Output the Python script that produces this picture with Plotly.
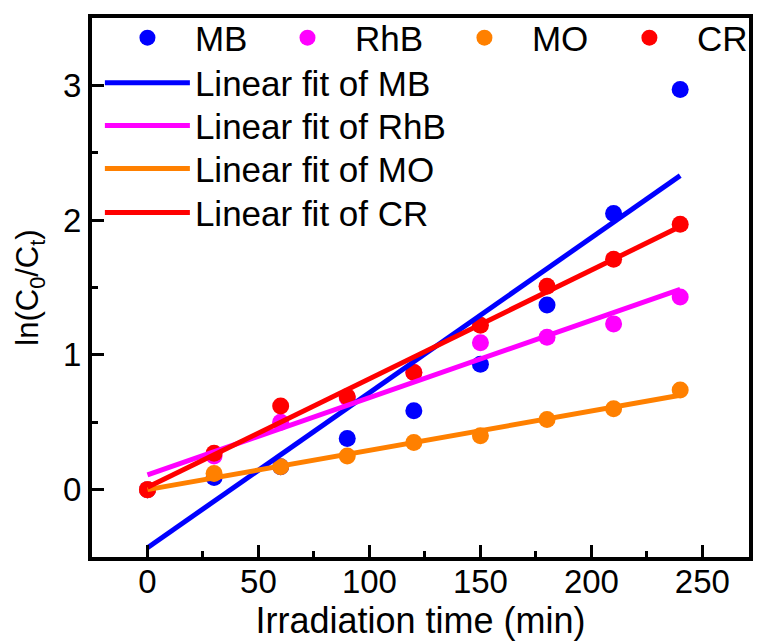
import numpy as np
import plotly.graph_objects as go

time_min = [0, 30, 60, 90, 120, 150, 180, 210, 240]
mb = [0.0, 0.09, 0.17, 0.38, 0.585, 0.93, 1.37, 2.05, 2.97]
rhb = [0.0, 0.25, 0.50, 0.68, 0.87, 1.09, 1.13, 1.23, 1.43]
mo = [0.0, 0.12, 0.17, 0.25, 0.35, 0.40, 0.52, 0.60, 0.74]
cr = [0.0, 0.27, 0.62, 0.69, 0.87, 1.22, 1.51, 1.71, 1.97]

names = ["MB", "RhB", "MO", "CR"]
series = [mb, rhb, mo, cr]
colors = ["#0000ff", "#ff00ff", "#ff8000", "#ff0000"]

FONT = "Liberation Sans, Arial, sans-serif"

fig = go.Figure()

marker_legend = ["legend", "legend3", "legend7", "legend8"]
fit_legend = ["legend2", "legend4", "legend5", "legend6"]

x = np.array(time_min, dtype=float)
for name, y, c, lg in zip(names, series, colors, marker_legend):
    fig.add_trace(go.Scatter(
        x=time_min, y=y, mode="markers", name=name, legend=lg,
        marker=dict(size=17, color=c, line=dict(width=0)),
    ))

for name, y, c, lg in zip(names, series, colors, fit_legend):
    k, b = np.polyfit(x, np.array(y), 1)
    xf = [time_min[0], time_min[-1]]
    yf = [b + k * xf[0], b + k * xf[1]]
    fig.add_trace(go.Scatter(
        x=xf, y=yf, mode="lines", name="Linear fit of " + name,
        legend=lg, line=dict(color=c, width=5),
    ))

axis_common = dict(
    showline=True, linecolor="black", linewidth=4, mirror=True,
    ticks="inside", ticklen=12, tickwidth=3, tickcolor="black",
    showgrid=False, zeroline=False,
    tickfont=dict(family=FONT, size=33, color="black"),
)

fig.update_xaxes(
    range=[-25, 271], tickvals=[0, 50, 100, 150, 200, 250],
    minor=dict(ticks="inside", ticklen=6, tickwidth=3, tickcolor="black",
               tickvals=[25, 75, 125, 175, 225]),
    ticklabelstandoff=-8,
    title=dict(text="Irradiation time (min)", font=dict(family=FONT, size=36, color="black"),
               standoff=0),
    **axis_common,
)
fig.update_yaxes(
    range=[-0.5, 3.5], tickvals=[0, 1, 2, 3],
    minor=dict(ticks="inside", ticklen=6, tickwidth=3, tickcolor="black",
               tickvals=[-0.5, 0.5, 1.5, 2.5]),
    title=dict(text="ln(C<sub>0</sub>/C<sub>t</sub>)", font=dict(family=FONT, size=31, color="black"),
               standoff=16),
    **axis_common,
)

LEG_FONT = dict(family=FONT, size=35, color="black")
common_leg = dict(font=LEG_FONT, bgcolor="rgba(0,0,0,0)", borderwidth=0,
                  xanchor="left", yanchor="middle")

fig.update_layout(
    width=761, height=642,
    margin=dict(l=92, r=8, t=17, b=85),
    paper_bgcolor="white", plot_bgcolor="white",
    showlegend=True,
    legend=dict(x=0.0121, y=0.963, itemwidth=85, **common_leg),
    legend3=dict(x=0.2557, y=0.963, itemwidth=85, **common_leg),
    legend7=dict(x=0.5250, y=0.963, itemwidth=85, **common_leg),
    legend8=dict(x=0.7761, y=0.963, itemwidth=85, **common_leg),
    legend2=dict(x=0.012, y=0.8796, itemwidth=85, **common_leg),
    legend4=dict(x=0.012, y=0.8000, itemwidth=85, **common_leg),
    legend5=dict(x=0.012, y=0.7204, itemwidth=85, **common_leg),
    legend6=dict(x=0.012, y=0.6389, itemwidth=85, **common_leg),
)

fig.write_html("out.html")
